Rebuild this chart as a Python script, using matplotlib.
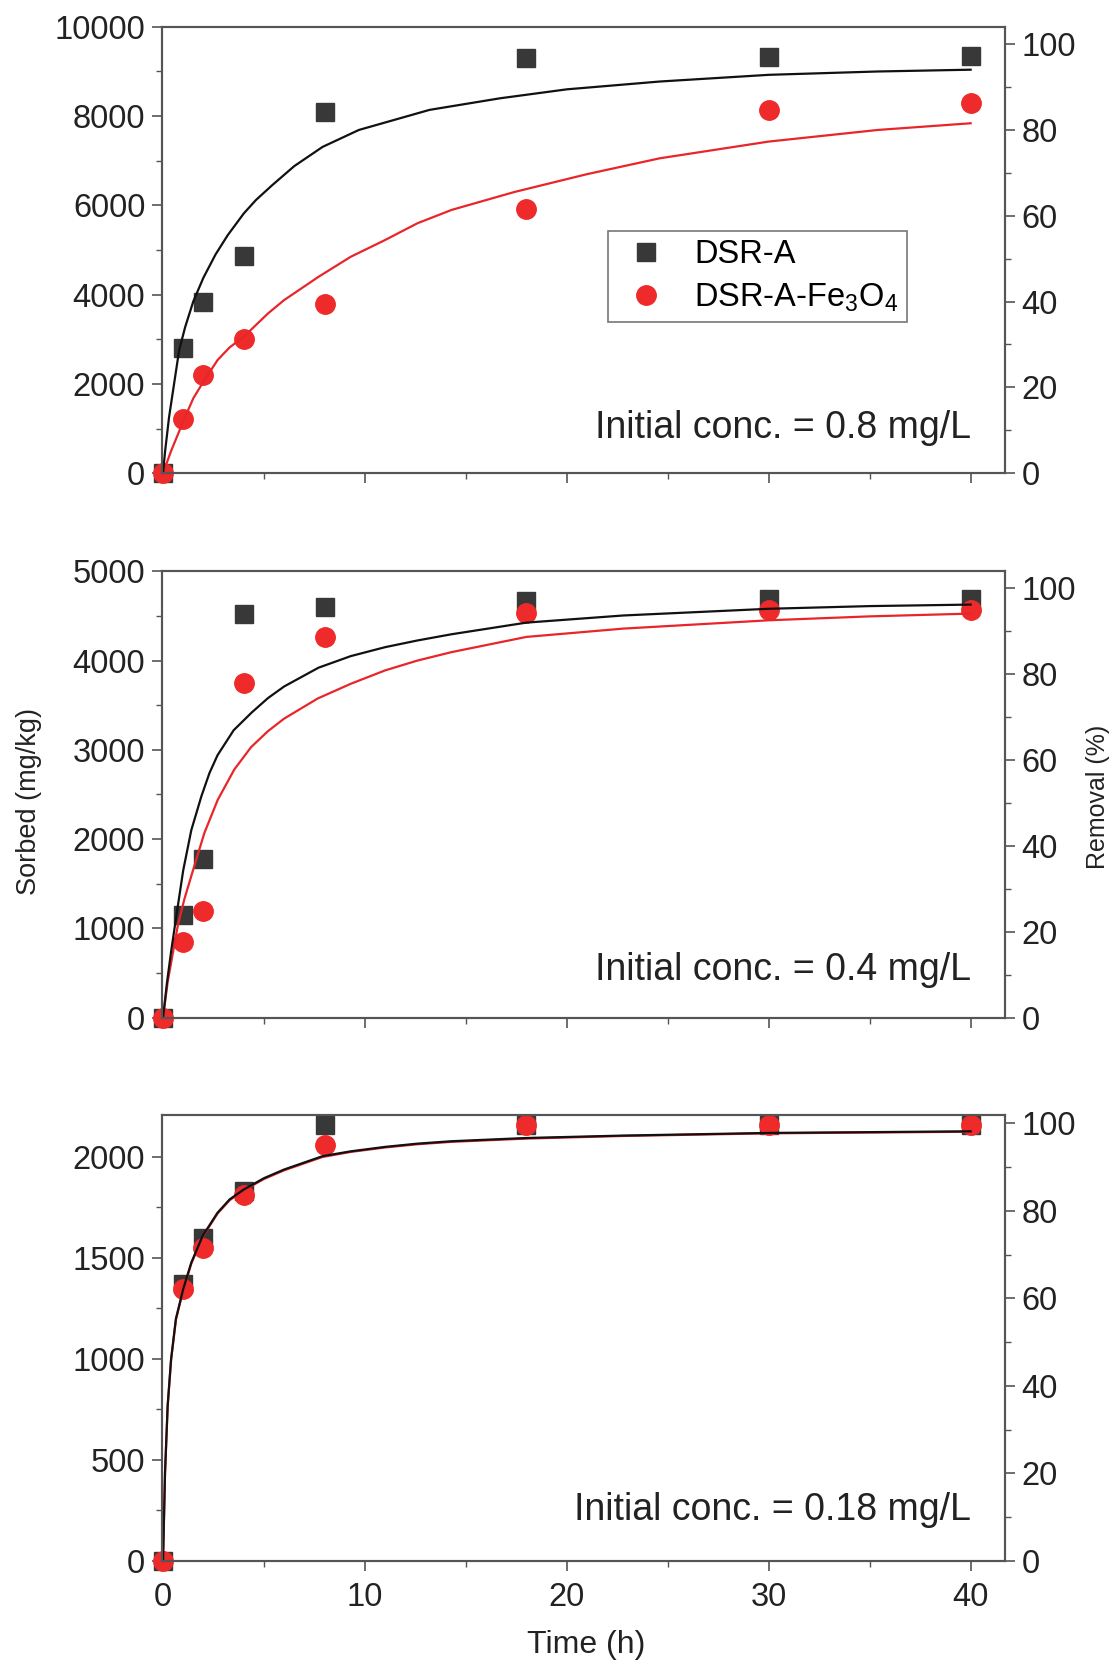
import matplotlib
matplotlib.use("Agg")
import matplotlib.pyplot as plt
from matplotlib.ticker import MultipleLocator

plt.rcParams['font.family'] = ['Liberation Sans', 'DejaVu Sans']
plt.rcParams['mathtext.fontset'] = 'custom'
plt.rcParams['mathtext.rm'] = 'Liberation Sans'

# sampling times (h)
time_h = [0, 1, 2, 4, 8, 18, 30, 40]

# measured sorbed amounts (mg/kg)
dsr_08 = [0, 2800, 3830, 4860, 8100, 9310, 9320, 9350]
fe_08 = [0, 1210, 2200, 3000, 3800, 5920, 8130, 8300]
dsr_04 = [0, 1150, 1780, 4520, 4600, 4670, 4685, 4690]
fe_04 = [0, 850, 1200, 3750, 4260, 4530, 4570, 4565]
dsr_018 = [0, 1370, 1600, 1830, 2160, 2160, 2160, 2160]
fe_018 = [0, 1345, 1550, 1810, 2060, 2160, 2160, 2160]

# fitted curves
fit_dsr_08_t = [0, 0.1, 0.3, 0.8, 1.1, 1.5, 2.0, 2.6, 3.2, 4.0, 4.6, 5.4, 6.5, 7.9, 9.7, 13.2, 16.7, 20, 24.6, 30, 35.4, 40]
fit_dsr_08_q = [0, 480, 1260, 2760, 3280, 3850, 4380, 4900, 5330, 5820, 6120, 6450, 6880, 7310, 7690, 8140, 8400, 8600, 8775, 8925, 9000, 9040]
fit_fe_08_t = [0, 0.4, 1.06, 1.5, 2.0, 2.7, 3.3, 4.0, 5.2, 6.0, 7.7, 9.3, 11.0, 12.6, 14.3, 17.4, 21, 24.6, 30, 35.4, 40]
fit_fe_08_q = [0, 500, 1225, 1680, 2050, 2535, 2820, 3060, 3580, 3880, 4400, 4850, 5225, 5600, 5900, 6300, 6700, 7055, 7430, 7690, 7840]

fit_dsr_04_t = [0, 0.2, 0.4, 0.7, 1.0, 1.4, 1.9, 2.3, 2.7, 3.5, 4.4, 5.2, 6.0, 7.7, 9.3, 11.0, 12.6, 14.3, 18, 22.8, 30, 35, 40]
fit_dsr_04_q = [0, 400, 740, 1200, 1650, 2100, 2480, 2740, 2940, 3220, 3420, 3580, 3710, 3920, 4050, 4150, 4225, 4295, 4425, 4505, 4580, 4610, 4627]
fit_fe_04_t = [0, 0.23, 0.73, 1.06, 1.55, 2.05, 2.71, 3.53, 4.36, 5.2, 6.0, 7.66, 9.3, 11, 12.6, 14.3, 18, 22.8, 30, 35, 40]
fit_fe_04_q = [0, 400, 1030, 1330, 1700, 2070, 2440, 2780, 3030, 3210, 3350, 3575, 3740, 3890, 4000, 4095, 4265, 4358, 4451, 4495, 4526]

fit_dsr_018_t = [0, 0.1, 0.23, 0.4, 0.64, 1.0, 1.4, 1.96, 2.7, 3.3, 4.0, 5.0, 6.0, 7.9, 9.3, 11.0, 12.6, 14.3, 18, 22.8, 30, 40]
fit_dsr_018_q = [0, 440, 770, 1000, 1200, 1346, 1477, 1609, 1724, 1790, 1839, 1895, 1938, 2004, 2028, 2050, 2066, 2078, 2094, 2106, 2119, 2127]
fit_fe_018_t = [0, 0.1, 0.23, 0.4, 0.64, 1.0, 1.4, 1.96, 2.7, 3.3, 4.0, 5.0, 6.0, 7.9, 9.3, 11.0, 12.6, 14.3, 18, 22.8, 30, 40]
fit_fe_018_q = [0, 435, 765, 995, 1195, 1340, 1472, 1604, 1720, 1786, 1835, 1891, 1934, 2000, 2025, 2047, 2063, 2075, 2091, 2104, 2117, 2125]

conc_labels = ['Initial conc. = 0.8 mg/L', 'Initial conc. = 0.4 mg/L', 'Initial conc. = 0.18 mg/L']
left_lims = [10000, 5000, 2210]
left_major = [2000, 1000, 500]
right_lims = [104, 104, 102]
label_y = [0.079, 0.084, 0.092]

SQ_COLOR = '#383838'
RED = '#ee2a2a'
LINE_RED = '#e8262a'
SPINE = '#555555'
TXT = '#222222'

panels = [
    (dsr_08, fe_08, fit_dsr_08_t, fit_dsr_08_q, fit_fe_08_t, fit_fe_08_q),
    (dsr_04, fe_04, fit_dsr_04_t, fit_dsr_04_q, fit_fe_04_t, fit_fe_04_q),
    (dsr_018, fe_018, fit_dsr_018_t, fit_dsr_018_q, fit_fe_018_t, fit_fe_018_q),
]

fig = plt.figure(figsize=(11.15, 16.67), dpi=100)
bottoms = [0.7161, 0.3895, 0.0636]
left, width, height = 0.1453, 0.756, 0.2678

for i, (sq, ci, bt, bq, rt, rq) in enumerate(panels):
    ax = fig.add_axes([left, bottoms[i], width, height])
    ax.plot(time_h, sq, 's', color=SQ_COLOR, ms=12.5, zorder=2, clip_on=False, label='DSR-A')
    ax.plot(time_h, ci, 'o', color=RED, ms=14, zorder=2.5, clip_on=False,
            label='DSR-A-Fe$_\\mathregular{3}$O$_\\mathregular{4}$')
    ax.plot(rt, rq, '-', color=LINE_RED, lw=1.6, zorder=3)
    ax.plot(bt, bq, '-', color='#111111', lw=1.6, zorder=3.1)

    ax.set_xlim(-0.05, 41.7)
    ax.set_ylim(0, left_lims[i])
    ax.xaxis.set_major_locator(MultipleLocator(10))
    ax.xaxis.set_minor_locator(MultipleLocator(5))
    ax.yaxis.set_major_locator(MultipleLocator(left_major[i]))
    ax.yaxis.set_minor_locator(MultipleLocator(left_major[i] / 2))
    ax.tick_params(which='major', length=7, width=1.2, color=SPINE, labelsize=23.5, pad=5, labelcolor=TXT)
    ax.tick_params(which='minor', length=4, width=1.0, color=SPINE)
    ax.tick_params(axis='x', pad=8)
    if i < 2:
        ax.tick_params(axis='x', labelbottom=False)
    for s in ax.spines.values():
        s.set_color(SPINE)
        s.set_linewidth(1.5)

    ax2 = ax.twinx()
    ax2.set_ylim(0, right_lims[i])
    ax2.yaxis.set_major_locator(MultipleLocator(20))
    ax2.yaxis.set_minor_locator(MultipleLocator(10))
    ax2.tick_params(which='major', length=7, width=1.2, color=SPINE, labelsize=23.5, pad=5, labelcolor=TXT)
    ax2.tick_params(which='minor', length=4, width=1.0, color=SPINE)
    for s in ax2.spines.values():
        s.set_color(SPINE)
        s.set_linewidth(1.5)

    ax.text(0.96, label_y[i], conc_labels[i], transform=ax.transAxes,
            ha='right', va='baseline', fontsize=27, color=TXT)

    if i == 0:
        leg = ax.legend(loc='upper left', bbox_to_anchor=(0.529, 0.543), borderaxespad=0,
                        fontsize=23.5, frameon=True, fancybox=False, handlelength=1.85,
                        handletextpad=0.55, borderpad=0.25, labelspacing=0.35,
                        edgecolor=SPINE)
        leg.get_frame().set_linewidth(1.2)

fig.text(0.026, 0.519, 'Sorbed (mg/kg)', rotation=90, ha='center', va='center', fontsize=19.5, color=TXT)
fig.text(0.985, 0.522, 'Removal (%)', rotation=90, ha='center', va='center', fontsize=18, color=TXT)
fig.text(0.526, 0.013, 'Time (h)', ha='center', va='center', fontsize=23, color=TXT)

fig.savefig('out.png', dpi=100)
